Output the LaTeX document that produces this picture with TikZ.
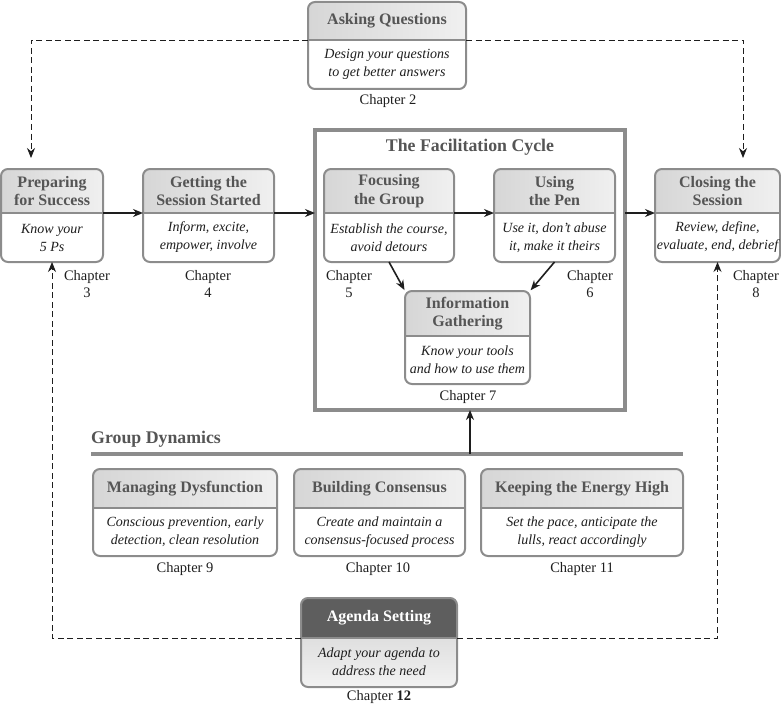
\documentclass[tikz,border=0pt]{standalone}
\usepackage{fontspec}
\setmainfont{Liberation Serif}
\usetikzlibrary{arrows.meta}
\definecolor{bordergray}{HTML}{8C8C8C}
\definecolor{titlegray}{HTML}{555555}
\definecolor{hdA}{HTML}{D6D6D6}
\definecolor{hdB}{HTML}{F0F0F0}
\definecolor{darkhd}{HTML}{5E5E5E}
\definecolor{ink}{HTML}{1E1E1E}
\tikzset{
 boxline/.style={draw=bordergray, line width=2pt},
 titletext/.style={font=\bfseries\fontsize{16}{18.5}\selectfont, text=titlegray, align=center, inner sep=0},
 bodytext/.style={font=\itshape\fontsize{14}{18}\selectfont, text=ink, align=center, inner sep=0},
 chaptext/.style={font=\fontsize{14.5}{17.5}\selectfont, text=ink, align=center, inner sep=0},
 headtext/.style={font=\bfseries\fontsize{17.8}{20}\selectfont, text=titlegray, inner sep=0},
 flow/.style={draw=ink, line width=1.6pt, -{Stealth[length=10pt,width=8pt]}},
 dashflow/.style={draw=ink, line width=0.9pt, dash pattern=on 6pt off 3.5pt, -{Stealth[length=10pt,width=8pt]}},
 boxarea/.style={draw=none, inner sep=0, outer sep=0},
}
\newcommand\mybox[8]{%
 \node[boxarea, minimum width={(#4-#2)*1pt}, minimum height={(#5-#3)*1pt}] (#1) at ({(#2+#4)/2},{(#3+#5)/2}) {};
 \coordinate (#1-dw) at (#2,#6);
 \coordinate (#1-de) at (#4,#6);
 \fill[white, rounded corners=7pt] (#2,#3) rectangle (#4,#5);
 \begin{scope}
  \clip[rounded corners=7pt] (#2,#3) rectangle (#4,#5);
  \shade[left color=hdA, right color=hdB] (#2,#3) rectangle (#4,#6);
 \end{scope}
 \draw[boxline] (#1-dw) -- (#1-de);
 \draw[boxline, rounded corners=7pt] (#2,#3) rectangle (#4,#5);
 \node[titletext] (#1-t) at ({(#2+#4)/2},{(#3+#6)/2}) {#7};
 \node[bodytext] (#1-b) at ({(#2+#4)/2},{(#6+#5)/2}) {#8};
}
\begin{document}
\begin{tikzpicture}[x=1pt,y=-1pt]
\useasboundingbox (0,0) rectangle (781,706);

% facilitation cycle frame
\node[draw=bordergray, line width=3.5pt, inner sep=0, outer sep=0,
      minimum width=310pt, minimum height=280pt] (cycle) at (470,270) {};
\node[headtext] (cycle-t) at (470,147) {The Facilitation Cycle};

\mybox{ask}{308}{2}{466}{89}{40}{Asking Questions}{Design your questions\\to get better answers}
\mybox{prep}{1}{169}{103}{262}{213}{Preparing\\for Success}{Know your\\5 Ps}
\mybox{start}{143}{169}{274}{262}{213}{Getting the\\Session Started}{Inform, excite,\\empower, involve}
\mybox{focus}{324}{169}{454}{262}{213}{Focusing\\the Group}{Establish the course,\\avoid detours}
\mybox{pen}{494}{169}{615}{262}{213}{Using\\the Pen}{Use it, don’t abuse\\it, make it theirs}
\mybox{info}{405}{291}{530}{384}{336}{Information\\Gathering}{Know your tools\\and how to use them}
\mybox{close}{655}{169}{780}{262}{213}{Closing the\\Session}{Review, define,\\evaluate, end, debrief}
\mybox{dysf}{93}{469}{277}{556}{508}{Managing Dysfunction}{Conscious prevention, early\\detection, clean resolution}
\mybox{cons}{294}{469}{465}{556}{508}{Building Consensus}{Create and maintain a\\consensus-focused process}
\mybox{energy}{481}{469}{683}{556}{508}{Keeping the Energy High}{Set the pace, anticipate the\\lulls, react accordingly}

% agenda setting box
\node[boxarea, minimum width=156pt, minimum height=89pt] (agenda) at (379,642.5) {};
\coordinate (agenda-dw) at (301,638);
\coordinate (agenda-de) at (457,638);
\begin{scope}
 \clip[rounded corners=7pt] (301,598) rectangle (457,687);
 \shade[top color=gray!25, bottom color=gray!10] (301,638) rectangle (457,687);
 \fill[darkhd] (301,598) rectangle (457,638);
\end{scope}
\draw[boxline] (agenda-dw) -- (agenda-de);
\draw[boxline, rounded corners=7pt] (301,598) rectangle (457,687);
\node[titletext, text=white] (agenda-t) at (379,618) {Agenda Setting};
\node[bodytext] (agenda-b) at (379,662) {Adapt your agenda to\\address the need};

% chapter labels
\node[chaptext] (ch2) at (388,101) {Chapter 2};
\node[chaptext] (ch3) at (87,284) {Chapter\\3};
\node[chaptext] (ch4) at (208,284) {Chapter\\4};
\node[chaptext] (ch5) at (349,284) {Chapter\\5};
\node[chaptext] (ch6) at (590,284) {Chapter\\6};
\node[chaptext] (ch7) at (468,397) {Chapter 7};
\node[chaptext] (ch8) at (756,284) {Chapter\\8};
\node[chaptext] (ch9) at (185,569) {Chapter 9};
\node[chaptext] (ch10) at (378,569) {Chapter 10};
\node[chaptext] (ch11) at (582,569) {Chapter 11};
\node[chaptext] (ch12) at (379,697) {Chapter \textbf{12}};

% group dynamics
\node[headtext, anchor=west] (gd) at (91,439) {Group Dynamics};
\coordinate (gdL) at (91,454);
\coordinate (gdR) at (683,454);
\draw[draw=bordergray, line width=4pt] (gdL) -- (gdR);
\draw[flow] (gdL -| cycle.south) -- (cycle.south);

% flow arrows
\draw[flow] (prep-de) -- (start-dw);
\draw[flow] (start-de) -- (start-de -| cycle.west);
\draw[flow] (focus-de) -- (pen-dw);
\draw[flow] (close-dw -| cycle.east) -- (close-dw);
\draw[flow, shorten >=1pt] (focus.south) -- (info.north west);
\draw[flow, shorten >=1pt] (pen.south) -- (info.north east);

% dashed feedback lines
\coordinate (pL) at (31,158);
\coordinate (pR) at (743,158);
\draw[dashflow] (ask-dw) -| (pL);
\draw[dashflow] (ask-de) -| (pR);
\draw[dashflow] (agenda-dw) -| (prep.south);
\draw[dashflow] (agenda-de) -| (close.south);
\end{tikzpicture}
\end{document}
